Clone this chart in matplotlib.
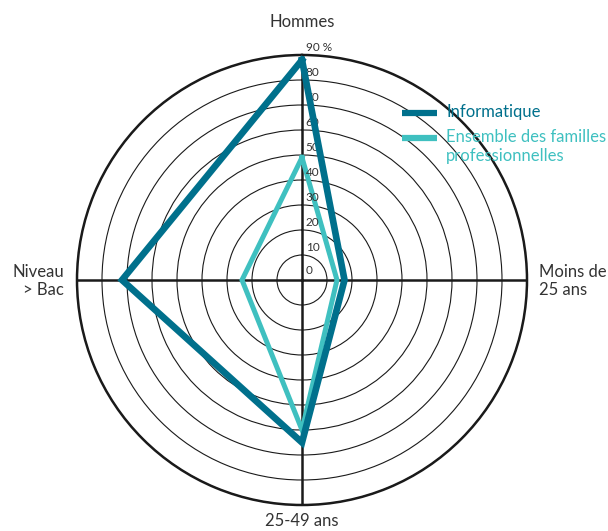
import matplotlib
matplotlib.use("Agg")
import matplotlib.pyplot as plt
import numpy as np

plt.rcParams['font.family'] = ['Lato', 'DejaVu Sans']

categories = ['Hommes', 'Moins de\n25 ans', '25-49 ans', 'Niveau\n> Bac']
informatique = [88, 17, 65, 72]
ensemble = [49, 14, 60, 24]
ring_values = [10, 20, 30, 40, 50, 60, 70, 80, 90]
ring_labels = ['10', '20', '30', '40', '50', '60', '70', '80', '90 %']

c_info = '#00708c'
c_ens = '#3fc0c0'
c_txt = '#333333'

angles = np.linspace(0, 2 * np.pi, len(categories), endpoint=False)
ang_closed = np.append(angles, angles[0])

fig = plt.figure(figsize=(6.08, 5.31), dpi=100)
ax = fig.add_axes([77 / 608, 26 / 531, 450 / 608, 450 / 531], polar=True)
ax.set_theta_zero_location('N')
ax.set_theta_direction(-1)
ax.set_ylim(0, 90)

ax.set_yticks(ring_values)
ax.set_yticklabels([])
ax.set_xticks(angles)
ax.set_xticklabels([])
ax.yaxis.grid(True, color='#1a1a1a', lw=0.8)
ax.xaxis.grid(True, color='#1a1a1a', lw=1.8)
ax.spines['polar'].set_color('#1a1a1a')
ax.spines['polar'].set_linewidth(1.8)

ax.plot(ang_closed, np.append(ensemble, ensemble[0]), color=c_ens, lw=3.6,
        solid_joinstyle='miter', zorder=3)
ax.plot(ang_closed, np.append(informatique, informatique[0]), color=c_info, lw=4.8,
        solid_joinstyle='miter', zorder=4)

# radial scale written along the top spoke
ax.text(np.arctan2(1.5, 1.5), np.hypot(1.5, 1.5), '0', fontsize=8.5, color=c_txt,
        ha='left', va='bottom')
for v, lab in zip(ring_values, ring_labels):
    th = np.arctan2(1.5, v)
    ax.text(th, np.hypot(1.5, v) + 0.8, lab, fontsize=8.5, color=c_txt,
            ha='left', va='bottom')

# category labels around the chart
fig.text(302 / 608, 1 - 22 / 531, categories[0], fontsize=12, color=c_txt,
         ha='center', va='center')
fig.text(539 / 608, 1 - 281 / 531, categories[1], fontsize=12, color=c_txt,
         ha='left', va='center', linespacing=1.15)
fig.text(302 / 608, 1 - 521 / 531, categories[2], fontsize=12, color=c_txt,
         ha='center', va='center')
fig.text(64 / 608, 1 - 281 / 531, categories[3], fontsize=12, color=c_txt,
         ha='right', va='center', multialignment='right', linespacing=1.15)

# legend
fig.add_artist(plt.Line2D([402 / 608, 437 / 608], [1 - 113 / 531] * 2, color=c_info,
                          lw=4.5, solid_capstyle='butt'))
fig.add_artist(plt.Line2D([402 / 608, 437 / 608], [1 - 138 / 531] * 2, color=c_ens,
                          lw=4.5, solid_capstyle='butt'))
fig.text(446 / 608, 1 - 112 / 531, 'Informatique', fontsize=12, color=c_info,
         ha='left', va='center')
fig.text(446 / 608, 1 - 129 / 531, 'Ensemble des familles\nprofessionnelles', fontsize=12,
         color=c_ens, ha='left', va='top', linespacing=1.2)

fig.savefig('out.png', dpi=100, facecolor='white')
